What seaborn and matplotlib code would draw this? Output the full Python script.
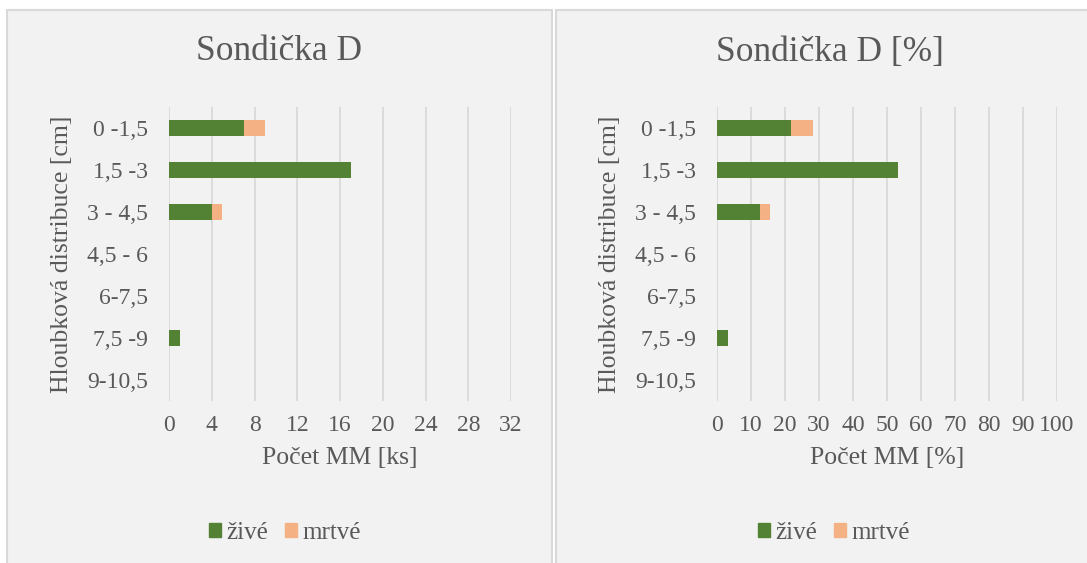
import pandas as pd
import matplotlib
matplotlib.use('Agg')
import matplotlib.pyplot as plt
import seaborn as sns
from matplotlib.patches import Rectangle, Patch

# data
hloubka = ['0 -1,5', '1,5 -3', '3 - 4,5', '4,5 - 6', '6-7,5', '7,5 -9', '9-10,5']
zive_ks = [7, 17, 4, 0, 0, 1, 0]
mrtve_ks = [2, 0, 1, 0, 0, 0, 0]
zive_pct = [21.9, 53.1, 12.5, 0, 0, 3.1, 0]
mrtve_pct = [6.3, 0, 3.1, 0, 0, 0, 0]

sns.set_theme(style='white')
plt.rcParams['font.family'] = ['Liberation Serif', 'DejaVu Serif']

txt = '#595959'
c_zive = '#548235'
c_mrtve = '#f4b183'

W, H = 1087, 563
fig = plt.figure(figsize=(W / 100, H / 100), dpi=100)
fig.patch.set_facecolor('white')

# panel backgrounds
for x0, x1 in [(7, 552), (556, 1090)]:
    fig.patches.append(Rectangle((x0 / W, -0.05), (x1 - x0) / W, 1 - 10 / H + 0.05,
                                 transform=fig.transFigure, facecolor='#f2f2f2',
                                 edgecolor='#d9d9d9', linewidth=1.5, zorder=-5))


def panel(left, right, zive, mrtve, xmax, step, title, xlabel, cx, lx):
    ax = fig.add_axes([left / W, 1 - 401 / H, (right - left) / W, (401 - 107) / H])
    ax.set_facecolor('none')
    df = pd.DataFrame({'hloubka': hloubka,
                       'celkem': [a + b for a, b in zip(zive, mrtve)],
                       'zive': zive})
    sns.barplot(data=df, y='hloubka', x='celkem', color=c_mrtve, orient='h',
                width=0.38, ax=ax, saturation=1, zorder=3, linewidth=0)
    sns.barplot(data=df, y='hloubka', x='zive', color=c_zive, orient='h',
                width=0.38, ax=ax, saturation=1, zorder=3, linewidth=0)
    ax.set_xlim(0, xmax)
    ax.set_ylim(6.5, -0.5)
    ax.set_xticks(range(0, xmax + 1, step))
    ax.grid(axis='x', color='#d9d9d9', linewidth=1.3, zorder=0)
    for s in ax.spines.values():
        s.set_visible(False)
    ax.tick_params(axis='both', length=0, labelsize=17, colors=txt)
    ax.tick_params(axis='x', pad=10)
    ax.tick_params(axis='y', pad=15)
    ax.set_xlabel(xlabel, fontsize=18.5, color=txt, labelpad=8)
    ax.set_ylabel('Hloubková distribuce [cm]', fontsize=18.5, color=txt, labelpad=10)
    fig.text(cx / W, 1 - 52 / H, title, fontsize=25.5, color=txt, ha='center', va='center')
    fig.legend(handles=[Patch(color=c_zive, label='živé'), Patch(color=c_mrtve, label='mrtvé')],
               loc='center', bbox_to_anchor=(lx / W, 1 - 533 / H), ncol=2, frameon=False,
               fontsize=18, labelcolor=txt, handlelength=0.5, handleheight=0.5,
               handletextpad=0.22, columnspacing=0.65)
    return ax


panel(169, 511, zive_ks, mrtve_ks, 32, 4, 'Sondička D', 'Počet MM [ks]', 279, 285)
panel(717, 1057, zive_pct, mrtve_pct, 100, 10, 'Sondička D [%]', 'Počet MM [%]', 830, 834)

fig.savefig('out.png', dpi=100)
